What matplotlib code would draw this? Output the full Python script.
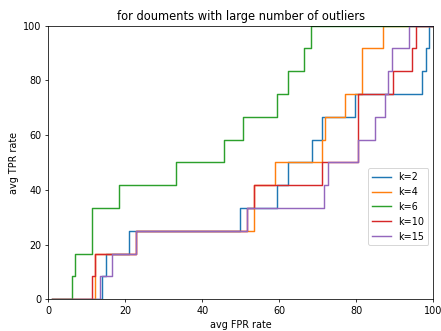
import matplotlib
matplotlib.use("Agg")
import matplotlib.pyplot as plt

labels = ["k=2", "k=4", "k=6", "k=10", "k=15"]

fpr_k2 = [0.9, 13.9, 15.0, 21.0, 49.8, 59.4, 62.3, 68.5, 71.0, 79.7, 97.2, 98.0, 99.0, 100]
tpr_k2 = [0, 8.33, 16.67, 25.0, 33.33, 41.67, 50.0, 58.33, 66.67, 75.0, 83.33, 91.67, 100, 100]

fpr_k4 = [0.9, 12.1, 22.7, 53.4, 58.8, 71.0, 71.9, 77.2, 81.4, 86.9, 100]
tpr_k4 = [0, 16.67, 25.0, 41.67, 50.0, 58.33, 66.67, 75.0, 91.67, 100, 100]

fpr_k6 = [0.9, 6.1, 7.0, 11.4, 18.4, 33.2, 45.6, 50.7, 59.5, 62.3, 66.5, 68.3, 100]
tpr_k6 = [0, 8.33, 16.67, 33.33, 41.67, 50.0, 58.33, 66.67, 75.0, 83.33, 91.67, 100, 100]

fpr_k10 = [0.9, 11.4, 12.1, 22.7, 51.7, 53.4, 71.0, 80.5, 89.5, 94.6, 95.4, 100]
tpr_k10 = [0, 8.33, 16.67, 25.0, 33.33, 41.67, 50.0, 75.0, 83.33, 91.67, 100, 100]

fpr_k15 = [0.9, 13.3, 16.5, 22.7, 51.7, 71.7, 72.7, 80.5, 84.9, 87.6, 88.3, 89.4, 93.8, 100]
tpr_k15 = [0, 8.33, 16.67, 25.0, 33.33, 41.67, 50.0, 58.33, 66.67, 75.0, 83.33, 91.67, 100, 100]

series = [(fpr_k2, tpr_k2), (fpr_k4, tpr_k4), (fpr_k6, tpr_k6),
          (fpr_k10, tpr_k10), (fpr_k15, tpr_k15)]

fig, ax = plt.subplots(figsize=(6.4, 4.8), dpi=69)
fig.subplots_adjust(left=0.1095, right=0.981, bottom=0.0958, top=0.9224)

for (x, y), lab in zip(series, labels):
    ax.plot(x, y, drawstyle="steps-post", label=lab)

ax.set_xlim(0, 100)
ax.set_ylim(0, 100)
ax.set_xlabel("avg FPR rate")
ax.set_ylabel("avg TPR rate")
ax.set_title("for douments with large number of outliers")
ax.legend(loc="lower right", bbox_to_anchor=(1.0, 0.18))

fig.savefig("out.png", dpi=69)
